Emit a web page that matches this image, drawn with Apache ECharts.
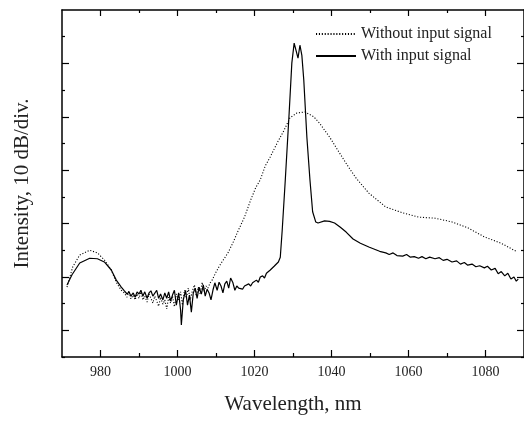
<!DOCTYPE html>
<html>
<head>
<meta charset="utf-8">
<script src="https://cdn.jsdelivr.net/npm/echarts@6/dist/echarts.min.js"></script>
<style>html,body{margin:0;padding:0;background:#fff;}#c{width:524px;height:421px;}</style>
</head>
<body>
<div id="c"></div>
<script>
// Wavelength (nm) and intensity (dB, 0 = top of frame, 10 dB/div)
const solidWl = [971.3,972.6,974.6,977.2,979.2,981.0,982.8,984.1,985.4,
986.2,986.9,987.4,987.9,988.5,989.0,989.5,990.0,990.5,991.0,991.5,992.1,992.6,993.1,993.6,994.1,994.6,995.1,995.6,996.2,996.7,997.2,997.7,998.2,998.7,999.2,999.7,1000.3,1000.8,1001.0,1001.5,1002.1,1002.6,1003.1,1003.6,1004.1,1004.6,1005.1,1005.6,1006.2,1006.7,1007.2,1007.7,1008.2,1008.7,1009.2,1009.7,1010.3,1010.8,1011.3,1011.8,1012.3,1012.8,1013.3,1013.8,1014.4,1014.9,1015.4,1015.9,1016.4,1016.9,1017.4,1017.9,1018.5,1019.0,1019.5,1020.0,1020.5,1021.0,1021.5,1022.1,1022.6,1023.1,1023.6,1024.1,1024.6,1025.1,1025.6,1026.2,1026.7,
1027.2,1028.0,1029.0,1029.7,1030.3,1030.8,1031.3,1031.8,1032.3,1032.8,1033.6,1034.4,1035.1,1035.9,1036.5,1038.2,1039.5,1040.8,1042.3,1043.8,1045.6,1047.5,1049.7,1051.5,1052.5,1054.1,1055.0,1056.0,1057.0,1058.5,1059.5,1060.5,1061.5,1062.6,1063.5,1064.5,1065.5,1066.9,1068.0,1069.0,1070.0,1071.3,1072.5,1073.5,1074.5,1075.4,1076.5,1077.5,1078.5,1079.7,1080.5,1081.5,1082.5,1083.3,1084.1,1085.0,1085.8,1086.6,1087.4,1088.0,1088.5];
const solidDb = [-51.5,-49.6,-47.4,-46.5,-46.6,-47.2,-48.7,-50.6,-51.9,
-52.6,-53.2,-52.8,-53.6,-53.0,-53.8,-52.8,-53.2,-52.5,-53.6,-52.8,-54.0,-53.0,-52.6,-53.6,-53.4,-52.5,-54.0,-53.2,-54.3,-53.0,-54.0,-52.8,-54.5,-53.4,-52.5,-55.3,-53.0,-56.2,-59.0,-54.3,-52.5,-55.3,-53.4,-56.6,-53.0,-52.1,-54.0,-51.9,-53.2,-51.5,-53.6,-52.3,-53.0,-54.3,-52.5,-51.1,-52.5,-51.0,-51.7,-53.0,-51.3,-50.8,-52.1,-50.2,-51.1,-52.5,-51.7,-52.1,-51.9,-52.3,-51.7,-51.9,-51.3,-51.7,-51.1,-51.0,-50.6,-51.0,-50.0,-49.8,-50.2,-49.3,-49.5,-48.7,-48.9,-48.0,-47.8,-47.2,-46.3,
-41.2,-31.8,-19.3,-9.9,-6.2,-7.6,-9.0,-6.6,-8.5,-13.1,-23.8,-31.8,-37.8,-39.7,-39.9,-39.5,-39.6,-39.9,-40.7,-41.6,-42.9,-43.7,-44.4,-44.9,-45.2,-45.5,-45.8,-45.5,-46.0,-46.1,-45.8,-46.3,-46.2,-46.5,-46.2,-46.6,-46.3,-46.6,-46.4,-46.9,-46.7,-47.2,-47.0,-47.6,-47.3,-47.8,-47.6,-48.1,-47.9,-48.3,-48.0,-48.7,-48.4,-49.4,-49.0,-49.8,-49.3,-50.4,-50.0,-50.8,-50.4];

const dotWl = [971.3,972.8,974.6,977.2,979.2,981.0,982.8,984.1,985.4,
986.2,986.9,987.4,987.9,988.5,989.0,989.5,990.0,990.5,991.0,991.5,992.1,992.6,993.1,993.6,994.1,994.6,995.1,995.6,996.2,996.7,997.2,997.7,998.2,998.7,999.2,999.7,1000.3,1000.8,1001.3,1001.8,1002.3,1002.8,1003.3,1003.8,1004.4,1004.9,1005.4,1005.9,1006.4,1006.9,1007.4,1007.9,1008.5,1009.0,
1010.0,1011.0,1012.1,1013.1,1014.4,1015.6,1017.4,1019.0,1020.3,1021.5,1022.8,1024.1,1025.9,1027.7,1029.2,1031.0,1033.1,1035.4,1036.9,1039.5,1042.1,1044.4,1046.4,1049.7,1054.1,1058.5,1062.6,1066.9,1071.3,1075.4,1079.7,1084.1,1088.2];
const dotDb = [-51.9,-48.1,-45.9,-45.0,-45.5,-46.8,-48.7,-51.0,-52.5,
-53.0,-53.8,-52.6,-54.1,-53.4,-54.3,-53.2,-54.0,-52.8,-54.3,-53.6,-54.7,-53.2,-54.0,-54.9,-53.6,-54.5,-55.5,-53.8,-55.1,-54.3,-56.0,-53.8,-54.9,-53.6,-55.6,-53.2,-54.3,-52.8,-55.3,-52.5,-54.0,-52.1,-54.3,-52.8,-51.5,-53.6,-51.9,-53.2,-51.0,-52.8,-51.7,-52.1,-51.1,-50.6,
-49.1,-47.8,-46.6,-45.5,-43.6,-41.6,-38.8,-35.6,-33.3,-31.8,-29.2,-27.5,-24.9,-22.5,-20.2,-19.3,-19.1,-20.0,-21.2,-23.8,-26.8,-29.4,-31.5,-34.3,-36.9,-38.0,-38.8,-39.0,-39.7,-40.8,-42.5,-43.7,-45.3];

const xMajor = [980,1000,1020,1040,1060,1080];
const xMinor = [990,1010,1030,1050,1070];
const yMajor = [-60,-50,-40,-30,-20,-10];
const yMinor = [-65,-55,-45,-35,-25,-15,-5];
const seriesNames = ['Without input signal','With input signal'];

const FONT = '"Liberation Serif", "DejaVu Serif", serif';
const X_MIN = 970, X_MAX = 1090, Y_MIN = -65, Y_MAX = 0;

function zip(a, b) { return a.map((v, i) => [v, b[i]]); }

function xAx(pos, ticks, len, showLine, showLabel, extra) {
  return Object.assign({
    type: 'value', position: pos, min: X_MIN, max: X_MAX,
    splitLine: { show: false },
    axisLine: { show: showLine, onZero: false, lineStyle: { color: '#000', width: 1.5 } },
    axisTick: { show: true, inside: true, length: len, customValues: ticks, lineStyle: { color: '#000', width: 1.2 } },
    axisLabel: showLabel ? { show: true, customValues: ticks, color: '#222', fontFamily: FONT, fontSize: 14, margin: 8,
      formatter: function (v) { return String(Math.round(v)); } } : { show: false }
  }, extra || {});
}
function yAx(pos, ticks, len, showLine) {
  return {
    type: 'value', position: pos, min: Y_MIN, max: Y_MAX,
    splitLine: { show: false },
    axisLine: { show: showLine, onZero: false, lineStyle: { color: '#000', width: 1.5 } },
    axisTick: { show: true, inside: true, length: len, customValues: ticks, lineStyle: { color: '#000', width: 1.2 } },
    axisLabel: { show: false }
  };
}

const chart = echarts.init(document.getElementById('c'), null, { renderer: 'canvas' });
chart.setOption({
  animation: false,
  backgroundColor: '#fff',
  grid: { left: 62, right: -6, top: 10, bottom: 64, containLabel: false },
  legend: {
    orient: 'vertical', left: 315, top: 26, padding: 0, itemGap: 6,
    itemWidth: 40, itemHeight: 14,
    data: seriesNames,
    itemStyle: { opacity: 0 },
    textStyle: { fontFamily: FONT, fontSize: 16, color: '#222' }
  },
  xAxis: [
    xAx('bottom', xMajor, 7, true, true, {
      name: 'Wavelength, nm', nameLocation: 'middle', nameGap: 37,
      nameTextStyle: { fontFamily: FONT, fontSize: 21, color: '#222' }
    }),
    xAx('bottom', xMinor, 4, false, false),
    xAx('top', xMajor, 6, true, false),
    xAx('top', xMinor, 3, false, false)
  ],
  yAxis: [
    Object.assign(yAx('left', yMajor, 7, true), {
      name: 'Intensity, 10 dB/div.', nameLocation: 'middle', nameGap: 29, nameRotate: 90,
      nameTextStyle: { fontFamily: FONT, fontSize: 21, color: '#222' }
    }),
    yAx('left', yMinor, 3, false),
    yAx('right', yMajor, 7, true),
    yAx('right', yMinor, 3, false)
  ],
  series: [
    {
      name: seriesNames[0], type: 'line', xAxisIndex: 0, yAxisIndex: 0,
      data: zip(dotWl, dotDb), showSymbol: false, symbol: 'none',
      lineStyle: { color: '#000', width: 1.1, type: [1.1, 1.8] },
      itemStyle: { color: '#000' }
    },
    {
      name: seriesNames[1], type: 'line', xAxisIndex: 0, yAxisIndex: 0,
      data: zip(solidWl, solidDb), showSymbol: false, symbol: 'none',
      lineStyle: { color: '#000', width: 1.2 },
      itemStyle: { color: '#000' }
    }
  ]
});
</script>
</body>
</html>
